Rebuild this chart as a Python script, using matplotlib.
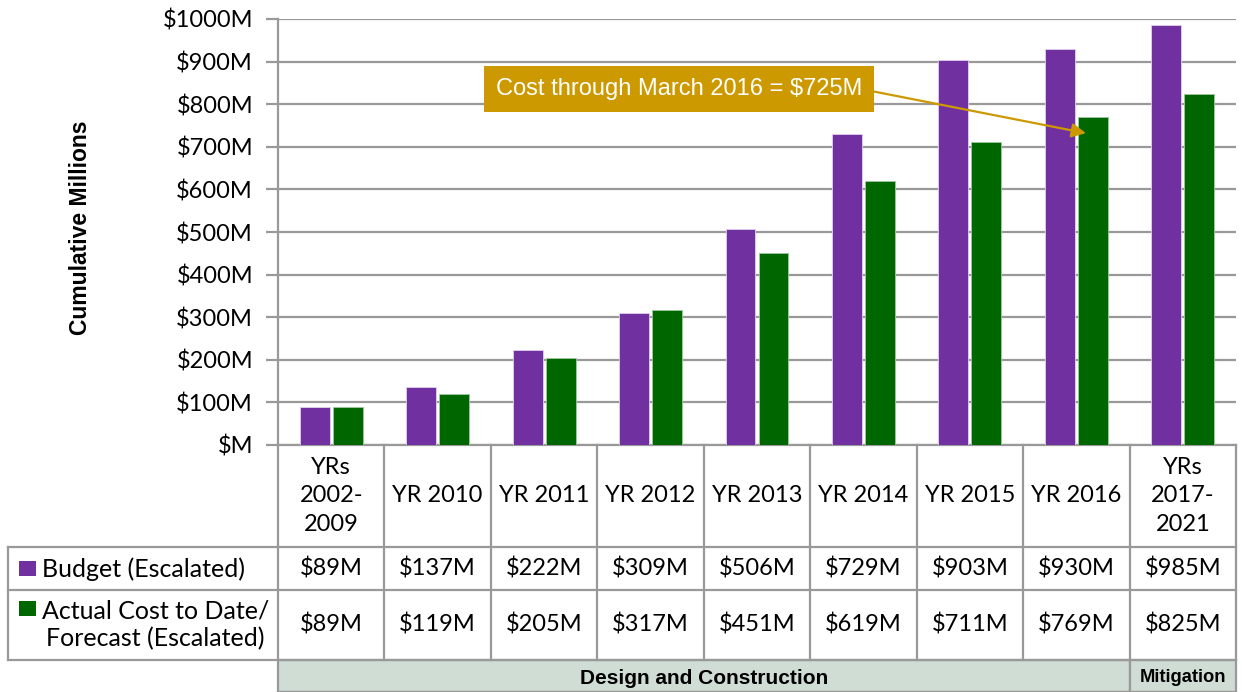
import matplotlib
matplotlib.use("Agg")
import matplotlib.pyplot as plt
from matplotlib.patches import Rectangle
import numpy as np

# Данные
categories = ["YRs\n2002-\n2009", "YR 2010", "YR 2011", "YR 2012", "YR 2013",
              "YR 2014", "YR 2015", "YR 2016", "YRs\n2017-\n2021"]
budget = [89, 137, 222, 309, 506, 729, 903, 930, 985]
actual = [89, 119, 205, 317, 451, 619, 711, 769, 825]
series_names = ["Budget (Escalated)", "Actual Cost to Date/\nForecast (Escalated)"]
phases = [("Design and Construction", 0, 7), ("Mitigation", 8, 8)]
y_ticks = [0, 100, 200, 300, 400, 500, 600, 700, 800, 900, 1000]
note_text = "Cost through March 2016 = $725M"

PURPLE = "#7030A0"
GREEN = "#006600"
GOLD = "#CC9900"
GRID = "#999999"
BAND = "#D0DDD5"
TFONT = "Lato"
FS = 17
W, H = 1242, 692

fig = plt.figure(figsize=(W / 100, H / 100), dpi=100)
x0, x1, y0, y1 = 278, 1236, 445, 19
ax = fig.add_axes([x0 / W, 1 - y0 / H, (x1 - x0) / W, (y0 - y1) / H])

x = np.arange(len(categories))
bw = 0.28
ax.bar(x - 0.155, budget, bw, color=PURPLE, edgecolor="#E0D0EE", linewidth=0.6, zorder=3)
ax.bar(x + 0.155, actual, bw, color=GREEN, edgecolor="#A0C8A0", linewidth=0.6, zorder=3)

ax.set_xlim(-0.5, len(categories) - 0.5)
ax.set_ylim(0, 1000)
ax.set_yticks(y_ticks)
ax.set_yticklabels([f"${v}M" if v else "$M" for v in y_ticks], fontfamily=TFONT, fontsize=FS)
ax.yaxis.grid(True, color=GRID, linewidth=1.6, zorder=0)
ax.tick_params(axis="y", length=9, width=1.6, color=GRID, pad=9)
ax.set_xticks([])
for s in ["top", "right", "bottom"]:
    ax.spines[s].set_visible(False)
ax.spines["left"].set_color(GRID)
ax.spines["left"].set_linewidth(1.6)
ax.spines["left"].set_zorder(1)
ax.set_ylabel("Cumulative Millions", fontfamily="Liberation Sans", fontweight="bold",
              fontsize=16.5)
ax.yaxis.set_label_coords(-0.194, 0.51)

# выноска
ax.annotate(note_text, xy=(7.09, 732), xytext=(3.27, 835),
            ha="center", va="center", color="white", fontsize=17,
            fontfamily="Liberation Sans",
            bbox=dict(boxstyle="square,pad=0.5", fc=GOLD, ec="none"),
            arrowprops=dict(arrowstyle="-|>,head_length=0.5,head_width=0.25", color=GOLD,
                            lw=1.6, relpos=(1, 0.5), shrinkA=0, shrinkB=0),
            zorder=5)

# таблица под графиком
tr = ax.get_xaxis_transform()
ppy = y0 - y1
def fy(py):
    return -(py - y0) / ppy

rows = [445, 547, 590, 660, 692]
lc = dict(color=GRID, linewidth=1.6, clip_on=False, transform=tr)
ux = (x1 - x0) / len(categories)
left_edge = -0.5 - (x0 - 8) / ux
# горизонтальные линии
ax.plot([-0.5, 8.5], [fy(rows[0])] * 2, **lc)
for r in rows[1:4]:
    ax.plot([left_edge, 8.5], [fy(r)] * 2, **lc)
ax.plot([-0.5, 8.5], [fy(rows[4])] * 2, **lc)
# вертикальные линии
for i in range(len(categories) + 1):
    ax.plot([i - 0.5] * 2, [fy(rows[0]), fy(rows[3])], **lc)
ax.plot([left_edge] * 2, [fy(rows[1]), fy(rows[3])], **lc)

# фазы
for name, a, b in phases:
    ax.add_patch(Rectangle((a - 0.5, fy(rows[4])), b - a + 1, fy(rows[3]) - fy(rows[4]),
                           transform=tr, clip_on=False, fc=BAND, ec=GRID, lw=1.6))
    ax.text((a + b) / 2, fy(678), name, transform=tr, ha="center", va="center",
            fontfamily="Liberation Sans", fontweight="bold",
            fontsize=15 if b > a else 13.2)

for i, c in enumerate(categories):
    ax.text(i, fy(496), c, transform=tr, ha="center", va="center", fontfamily=TFONT,
            fontsize=FS, linespacing=1.45)
    ax.text(i, fy(569), f"${budget[i]}M", transform=tr, ha="center", va="center",
            fontfamily=TFONT, fontsize=FS)
    ax.text(i, fy(625), f"${actual[i]}M", transform=tr, ha="center", va="center",
            fontfamily=TFONT, fontsize=FS)

# легенда в таблице
for name, col, py, ty in [(series_names[0], PURPLE, 568, 569),
                          (series_names[1], GREEN, 608, 625)]:
    ax.add_patch(Rectangle((left_edge + 11 / ux, fy(py + 7.5)), 17 / ux, 15 / ppy,
                           transform=tr, clip_on=False, fc=col, ec="none"))
    ax.text(left_edge + 34 / ux, fy(ty), name, transform=tr, ha="left", va="center",
            fontfamily=TFONT, fontsize=18, linespacing=1.2, multialignment="center")

fig.savefig("out.png", dpi=100)
